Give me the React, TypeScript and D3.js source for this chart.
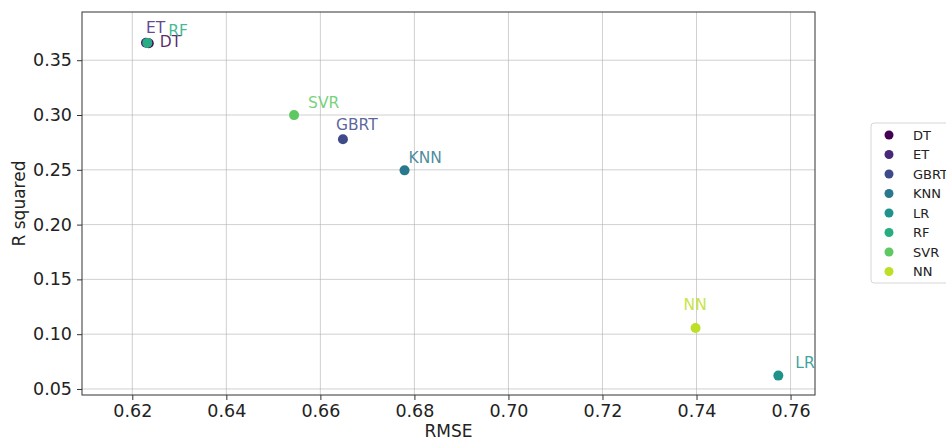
import React, { useEffect, useRef } from "react";
import * as d3 from "d3";

const models = ["DT", "ET", "GBRT", "KNN", "LR", "RF", "SVR", "NN"];
const rmse = [0.6235, 0.6229, 0.6648, 0.6779, 0.7574, 0.6232, 0.6544, 0.7398];
const rSquared = [0.3655, 0.366, 0.2778, 0.2495, 0.0622, 0.3658, 0.2999, 0.1056];
const colors = ["#440154", "#482878", "#3e4a89", "#2a788e", "#20928c", "#27ad81", "#5ec962", "#bddf26"];
const xTicks = [0.62, 0.64, 0.66, 0.68, 0.7, 0.72, 0.74, 0.76];
const yTicks = [0.05, 0.1, 0.15, 0.2, 0.25, 0.3, 0.35];

// where each annotation sits relative to its dot (text was nudged apart in the original)
const labelOffsets = [[11, 4], [0, -10], [-7, -9], [4, -7], [17, -8], [21, -7], [14, -7], [-12, -18]];

const W = 946;
const H = 441;
const margin = { left: 82, right: 131, top: 12, bottom: 46 };
const font = "'DejaVu Sans', sans-serif";

export default function App() {
  const svgRef = useRef<SVGSVGElement>(null);

  useEffect(() => {
    const svg = d3.select(svgRef.current);
    svg.selectAll("*").remove();

    const x = d3.scaleLinear().domain([0.6093, 0.7652]).range([margin.left, W - margin.right]);
    const y = d3.scaleLinear().domain([0.0445, 0.394]).range([H - margin.bottom, margin.top]);

    const [x0, x1] = x.range();
    const [y0, y1] = y.range();

    // grid
    const grid = svg.append("g");
    grid
      .selectAll("line.vx")
      .data(xTicks)
      .join("line")
      .attr("x1", (d) => x(d))
      .attr("x2", (d) => x(d))
      .attr("y1", y1)
      .attr("y2", y0)
      .attr("stroke", "#b0b0b0")
      .attr("stroke-opacity", 0.6)
      .attr("stroke-width", 1);
    grid
      .selectAll("line.hy")
      .data(yTicks)
      .join("line")
      .attr("x1", x0)
      .attr("x2", x1)
      .attr("y1", (d) => y(d))
      .attr("y2", (d) => y(d))
      .attr("stroke", "#b0b0b0")
      .attr("stroke-opacity", 0.6)
      .attr("stroke-width", 1);

    // axes
    const xAxis = svg
      .append("g")
      .attr("transform", `translate(0, ${y0})`)
      .call(d3.axisBottom(x).tickValues(xTicks).tickFormat(d3.format(".2f")).tickSize(5).tickPadding(5).tickSizeOuter(0));
    const yAxis = svg
      .append("g")
      .attr("transform", `translate(${x0}, 0)`)
      .call(d3.axisLeft(y).tickValues(yTicks).tickFormat(d3.format(".2f")).tickSize(5).tickPadding(5).tickSizeOuter(0));
    [xAxis, yAxis].forEach((a) => {
      a.select(".domain").remove();
      a.selectAll("line").attr("stroke", "#333");
      a.selectAll("text").attr("font-family", font).attr("font-size", 17.5).attr("fill", "#222");
    });

    // frame
    svg
      .append("rect")
      .attr("x", x0)
      .attr("y", y1)
      .attr("width", x1 - x0)
      .attr("height", y0 - y1)
      .attr("fill", "none")
      .attr("stroke", "#333")
      .attr("stroke-width", 1);

    svg
      .append("text")
      .attr("x", (x0 + x1) / 2)
      .attr("y", 437)
      .attr("text-anchor", "middle")
      .attr("font-family", font)
      .attr("font-size", 17)
      .attr("fill", "#222")
      .text("RMSE");
    svg
      .append("text")
      .attr("transform", `translate(25, ${(y0 + y1) / 2}) rotate(-90)`)
      .attr("text-anchor", "middle")
      .attr("font-family", font)
      .attr("font-size", 17)
      .attr("fill", "#222")
      .text("R squared");

    // points
    svg
      .append("g")
      .selectAll("circle")
      .data(models)
      .join("circle")
      .attr("cx", (_, i) => x(rmse[i]))
      .attr("cy", (_, i) => y(rSquared[i]))
      .attr("r", 5)
      .attr("fill", (_, i) => colors[i]);

    svg
      .append("g")
      .selectAll("text")
      .data(models)
      .join("text")
      .attr("x", (_, i) => x(rmse[i]) + labelOffsets[i][0])
      .attr("y", (_, i) => y(rSquared[i]) + labelOffsets[i][1])
      .attr("font-family", font)
      .attr("font-size", 15.5)
      .attr("fill", (_, i) => colors[i])
      .attr("fill-opacity", 0.85)
      .text((d) => d);

    // legend
    const lg = svg.append("g").attr("transform", "translate(871, 123)");
    lg.append("rect")
      .attr("x", 0)
      .attr("y", 0)
      .attr("width", 100)
      .attr("height", 160)
      .attr("rx", 3)
      .attr("fill", "white")
      .attr("stroke", "#d6d6d6");
    const rows = lg
      .selectAll("g.row")
      .data(models)
      .join("g")
      .attr("transform", (_, i) => `translate(0, ${12 + i * 19.5})`);
    rows
      .append("circle")
      .attr("cx", 18)
      .attr("cy", 0)
      .attr("r", 4.5)
      .attr("fill", (_, i) => colors[i]);
    rows
      .append("text")
      .attr("x", 42)
      .attr("y", 4.5)
      .attr("font-family", font)
      .attr("font-size", 13)
      .attr("fill", "#222")
      .text((d) => d);
  }, []);

  return (
    <div style={{ position: "absolute", left: 0, top: 0, width: W, height: H }}>
      <svg ref={svgRef} width={W} height={H}></svg>
    </div>
  );
}
